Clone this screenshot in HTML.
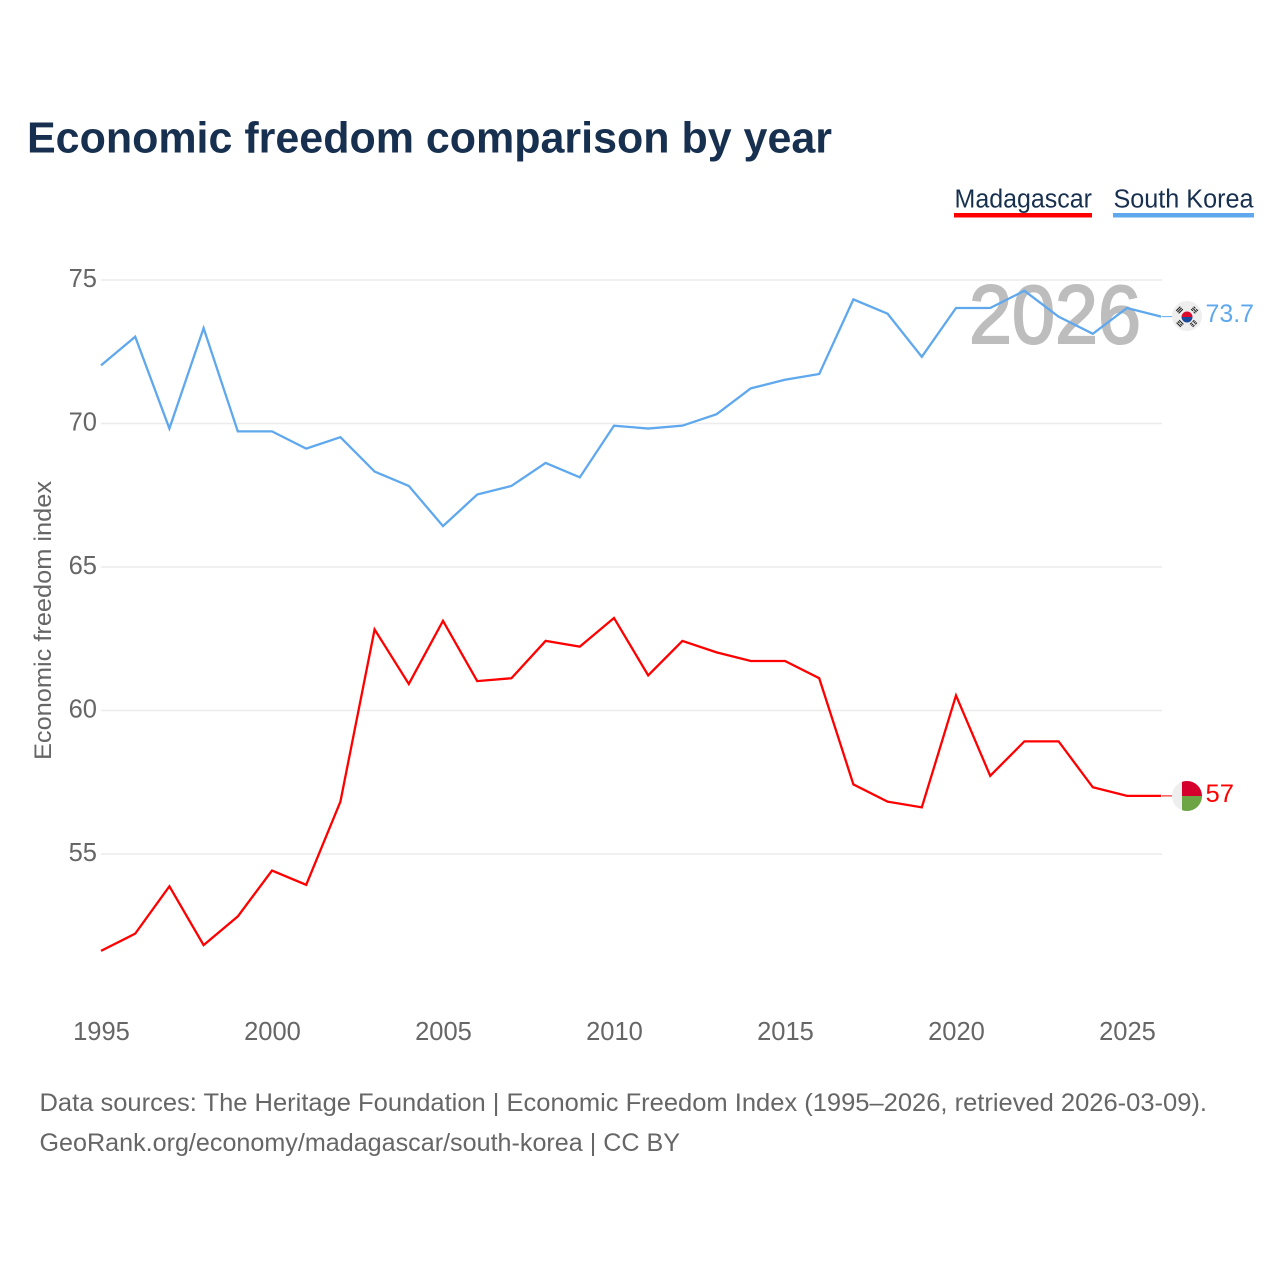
<!DOCTYPE html>
<html lang="en">
<head>
<meta charset="utf-8">
<title>Economic freedom comparison by year</title>
<style>
html,body{margin:0;padding:0;background:#fff;width:1280px;height:1280px;overflow:hidden}
svg{display:block}
text{font-family:"Liberation Sans",sans-serif}
</style>
</head>
<body>
<svg id="chart" xmlns="http://www.w3.org/2000/svg" width="1280" height="1280" viewBox="0 0 1280 1280">
  <rect x="0" y="0" width="1280" height="1280" fill="#fff"/>
  <text x="27" y="152.500" font-size="44" font-weight="700" fill="#18304f" textLength="805" lengthAdjust="spacingAndGlyphs">Economic freedom comparison by year</text>

  <g>
    <g>
      <text x="954.500" y="207.500" font-size="25.500" fill="#18304f" textLength="137.500" lengthAdjust="spacingAndGlyphs">Madagascar</text>
      <rect x="954" y="213" width="138" height="4.500" fill="#ff0000"/>
    </g>
    <g>
      <text x="1113.500" y="207.500" font-size="25.500" fill="#18304f" textLength="140" lengthAdjust="spacingAndGlyphs">South Korea</text>
      <rect x="1113" y="213" width="141" height="4.500" fill="#5fa8ee"/>
    </g>
  </g>

  <g id="grid"></g>
  <g id="yticks"></g>
  <g id="xticks"></g>
  <text transform="translate(51,760) rotate(-90)" font-size="24" fill="#666" textLength="279" lengthAdjust="spacingAndGlyphs">Economic freedom index</text>
  <text x="969" y="343" font-size="83" font-weight="400" fill="#bdbdbd" stroke="#bdbdbd" stroke-width="2" textLength="172" lengthAdjust="spacingAndGlyphs">2026</text>
  <g id="series" transform="translate(0,-0.7)"></g>

  <defs>
    <clipPath id="clip-mg"><circle cx="1187" cy="796" r="15"/></clipPath>
  </defs>

  <g id="flag-kr">
    <circle cx="1187" cy="316" r="15" fill="#eeeeee"/>
    <path d="M1181.500 317a5.500 5.500 0 0 1 11 0z" fill="#dc0b2e"/>
    <path d="M1181.500 317a5.500 5.500 0 0 0 11 0z" fill="#1a4a9c"/>
    <g stroke="#222" stroke-width="1.100" fill="none">
      <g transform="translate(1179.500,310) rotate(-45)"><path d="M-3 -1.800H3M-3 0H3M-3 1.800H3"/></g>
      <g transform="translate(1194.500,310) rotate(45)"><path d="M-3 -1.800H-0.500M0.500 -1.800H3M-3 0H3M-3 1.800H-0.500M0.500 1.800H3"/></g>
      <g transform="translate(1180,323.500) rotate(45)"><path d="M-3 -1.800H3M-3 0H-0.500M0.500 0H3M-3 1.800H3"/></g>
      <g transform="translate(1193.500,323.500) rotate(-45)"><path d="M-3 -1.800H-0.500M0.500 -1.800H3M-3 0H-0.500M0.500 0H3M-3 1.800H-0.500M0.500 1.800H3"/></g>
    </g>
  </g>
  <g id="flag-mg">
    <circle cx="1187" cy="796" r="15" fill="#eeeeee"/>
    <g clip-path="url(#clip-mg)">
      <rect x="1182" y="781" width="20" height="15" fill="#d6002c"/>
      <rect x="1182" y="796" width="20" height="15" fill="#6da544"/>
    </g>
  </g>
  <text id="end-kr" x="1205.500" y="322" font-size="25" fill="#5fa8ee" textLength="48.500" lengthAdjust="spacingAndGlyphs"></text>
  <text id="end-mg" x="1205.500" y="802" font-size="25" fill="#ff0000" textLength="28.500" lengthAdjust="spacingAndGlyphs"></text>

  <g>
    <text x="39.500" y="1111" font-size="25" fill="#666" textLength="1167.500" lengthAdjust="spacingAndGlyphs">Data sources: The Heritage Foundation | Economic Freedom Index (1995–2026, retrieved 2026-03-09).</text>
    <text x="39.500" y="1151" font-size="25" fill="#666" textLength="640.500" lengthAdjust="spacingAndGlyphs">GeoRank.org/economy/madagascar/south-korea | CC BY</text>
  </g>
</svg>
<script>
const years = [1995,1996,1997,1998,1999,2000,2001,2002,2003,2004,2005,2006,2007,2008,2009,2010,2011,2012,2013,2014,2015,2016,2017,2018,2019,2020,2021,2022,2023,2024,2025,2026];
const madagascar = [51.6,52.2,53.85,51.8,52.8,54.4,53.9,56.8,62.8,60.9,63.1,61.0,61.1,62.4,62.2,63.2,61.2,62.4,62.0,61.7,61.7,61.1,57.4,56.8,56.6,60.5,57.7,58.9,58.9,57.3,57.0,57.0];
const southKorea = [72.0,73.0,69.8,73.3,69.7,69.7,69.1,69.5,68.3,67.8,66.4,67.5,67.8,68.6,68.1,69.9,69.8,69.9,70.3,71.2,71.5,71.7,74.3,73.8,72.3,74.0,74.0,74.6,73.7,73.1,74.0,73.7];
const yTicks = [55,60,65,70,75];
const xTicks = [1995,2000,2005,2010,2015,2020,2025];

const NS = 'http://www.w3.org/2000/svg';
const xScale = function (year) { return 101 + (year - 1995) * 34.2; };
const yScale = function (v) { return 280 + (75 - v) * 28.7; };

const gridGroup = document.getElementById('grid');
const yTickGroup = document.getElementById('yticks');
const xTickGroup = document.getElementById('xticks');
const seriesGroup = document.getElementById('series');

yTicks.forEach(function (t) {
  const line = document.createElementNS(NS, 'line');
  
  
  line.setAttribute('x1', 101);
  line.setAttribute('x2', 1162);
  line.setAttribute('y1', yScale(t));
  line.setAttribute('y2', yScale(t));
  line.setAttribute('stroke', '#ececec');
  line.setAttribute('stroke-width', 1.5);
  gridGroup.appendChild(line);

  const label = document.createElementNS(NS, 'text');
  
  
  label.setAttribute('x', 97);
  label.setAttribute('y', yScale(t) + 7);
  label.setAttribute('text-anchor', 'end');
  label.setAttribute('font-size', 25.5);
  label.setAttribute('fill', '#666');
  label.textContent = t;
  yTickGroup.appendChild(label);
});

xTicks.forEach(function (t) {
  const label = document.createElementNS(NS, 'text');
  
  
  label.setAttribute('x', xScale(t) + 0.5);
  label.setAttribute('y', 1040);
  label.setAttribute('text-anchor', 'middle');
  label.setAttribute('font-size', 25.5);
  label.setAttribute('fill', '#666');
  label.textContent = t;
  xTickGroup.appendChild(label);
});

function toPoints(values) {
  return values.map(function (v, i) {
    return xScale(years[i]).toFixed(2) + ',' + yScale(v).toFixed(2);
  }).join(' ');
}

const madLine = document.createElementNS(NS, 'polyline');


madLine.setAttribute('points', toPoints(madagascar));
madLine.setAttribute('fill', 'none');
madLine.setAttribute('stroke', '#ff0000');
madLine.setAttribute('stroke-width', 2.3);
madLine.setAttribute('stroke-linejoin', 'miter');
seriesGroup.appendChild(madLine);

const krLine = document.createElementNS(NS, 'polyline');


krLine.setAttribute('points', toPoints(southKorea));
krLine.setAttribute('fill', 'none');
krLine.setAttribute('stroke', '#5fa8ee');
krLine.setAttribute('stroke-width', 2.3);
krLine.setAttribute('stroke-linejoin', 'miter');
seriesGroup.appendChild(krLine);

const lastMad = madagascar[madagascar.length - 1];
const lastKr = southKorea[southKorea.length - 1];

const madConnector = document.createElementNS(NS, 'line');


madConnector.setAttribute('x1', 1162);
madConnector.setAttribute('x2', 1172);
madConnector.setAttribute('y1', yScale(lastMad));
madConnector.setAttribute('y2', yScale(lastMad));
madConnector.setAttribute('stroke', '#ff0000');
madConnector.setAttribute('stroke-width', 1);
seriesGroup.appendChild(madConnector);

const krConnector = document.createElementNS(NS, 'line');


krConnector.setAttribute('x1', 1162);
krConnector.setAttribute('x2', 1172);
krConnector.setAttribute('y1', yScale(lastKr));
krConnector.setAttribute('y2', yScale(lastKr));
krConnector.setAttribute('stroke', '#5fa8ee');
krConnector.setAttribute('stroke-width', 1);
seriesGroup.appendChild(krConnector);

document.getElementById('end-kr').textContent = lastKr;
document.getElementById('end-mg').textContent = lastMad;
</script>
</body>
</html>
